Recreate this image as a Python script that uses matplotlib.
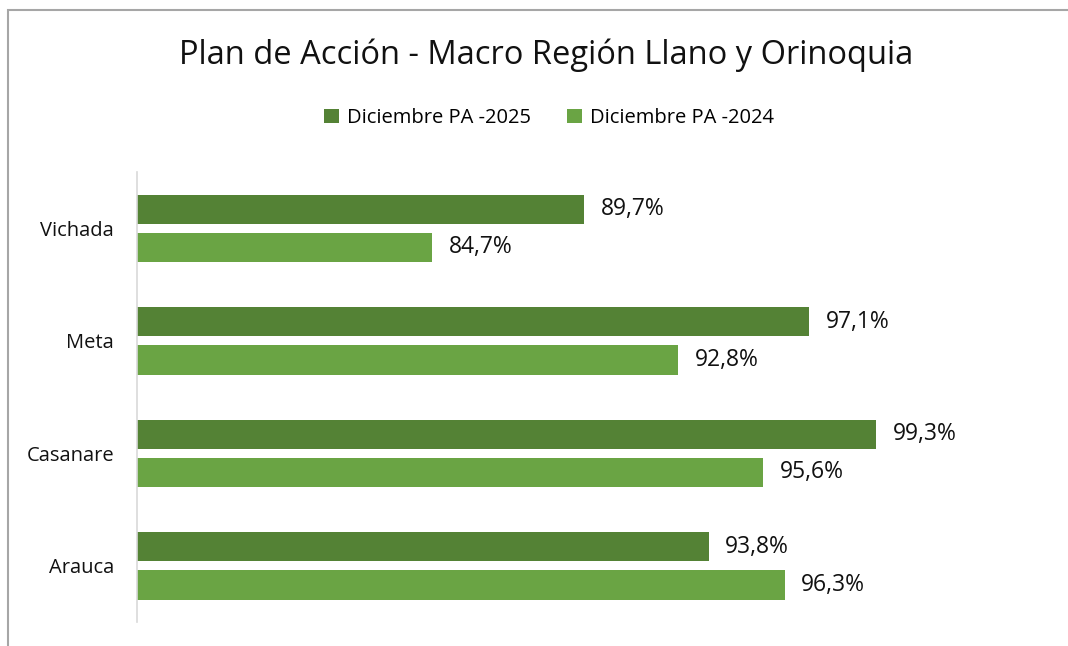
import numpy as np
import matplotlib.pyplot as plt
from matplotlib.patches import Rectangle

regiones = ['Arauca', 'Casanare', 'Meta', 'Vichada']
pa_2025 = [93.8, 99.3, 97.1, 89.7]
pa_2024 = [96.3, 95.6, 92.8, 84.7]
series = ['Diciembre PA -2025', 'Diciembre PA -2024']
colores = ['#548235', '#6aa444']

plt.rcParams['font.family'] = ['Open Sans', 'DejaVu Sans']

fig = plt.figure(figsize=(10.68, 6.46), dpi=100)
ax = fig.add_axes([137 / 1068, 1 - 622 / 646, (897 - 137) / 1068, 450 / 646])

y = np.arange(len(regiones))
alto = 0.26
b1 = ax.barh(y + 0.17, pa_2025, height=alto, color=colores[0], label=series[0])
b2 = ax.barh(y - 0.17, pa_2024, height=alto, color=colores[1], label=series[1])

for barras in (b1, b2):
    for b in barras:
        v = b.get_width()
        ax.annotate(f'{v:.1f}%'.replace('.', ','), (v, b.get_y() + b.get_height() / 2),
                    xytext=(12, 0), textcoords='offset points', va='center', ha='left',
                    fontsize=16.5, color='#111111', annotation_clip=False)

ax.set_xlim(75, 100)
ax.set_ylim(-0.5, 3.5)
ax.set_yticks(y)
ax.set_yticklabels(regiones, fontsize=14.5, color='#111111')
ax.set_xticks([])
ax.tick_params(axis='y', length=0, pad=16.5)
for s in ['top', 'right', 'bottom']:
    ax.spines[s].set_visible(False)
ax.spines['left'].set_color('#d9d9d9')
ax.spines['left'].set_linewidth(1.2)

fig.text(546 / 1068, 1 - 55 / 646, 'Plan de Acción - Macro Región Llano y Orinoquia',
         ha='center', va='center', fontsize=23.5, color='#111111')
fig.legend(handles=[b1, b2], loc='center', bbox_to_anchor=(549 / 1068, 1 - 118 / 646),
           ncol=2, frameon=False, fontsize=14.5, handlelength=0.75, handleheight=0.75,
           columnspacing=1.8, handletextpad=0.4)

# marco gris del grafico
fig.patches.append(Rectangle((8 / 1068, -0.1), 1.2, 1 - 10 / 646 + 0.1, transform=fig.transFigure,
                             fill=False, edgecolor='#a6a6a6', linewidth=1.5))

fig.savefig('out.png', dpi=100)
